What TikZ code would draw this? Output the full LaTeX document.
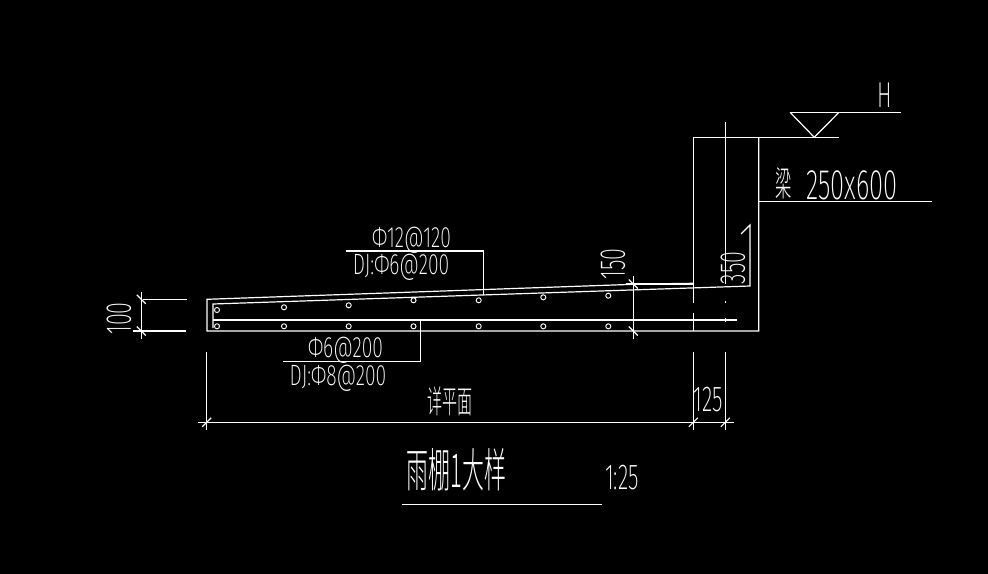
\documentclass[tikz,border=0pt]{standalone}
\usepackage{fontspec}
\newfontfamily\cadfont[FakeStretch=0.6,UprightFont={* ExtraLight}]{Fira Sans}
\newfontfamily\cadwide[FakeStretch=0.66,UprightFont={* ExtraLight}]{Fira Sans}
\newfontfamily\cadcjk[FakeStretch=0.47,UprightFont={* Light}]{Noto Sans CJK SC}
\begin{document}
\begin{tikzpicture}[x=0.75pt, y=-0.75pt, white, line width=0.9pt,
    dimtext/.style = {font=\cadfont\fontsize{27}{27}\selectfont, inner sep=0pt},
    bartext/.style = {font=\cadwide\fontsize{22}{22}\selectfont, inner sep=0pt},
    hanzi/.style = {inner sep=0pt, font=\cadcjk\fontsize{#1}{#1}\selectfont},
    rebar/.style = {draw, circle, inner sep=0pt, minimum size=3.8pt, line width=0.7pt}]
  \fill[black] (0,0) rectangle (988,574);
  \useasboundingbox (0,0) rectangle (988,574);

  % beam and slab outline
  \draw (693.3,137.3) -- (693.3,303);
  \draw (693.3,312.7) -- (693.3,331);
  \draw (758.7,137.3) -- (758.7,331) -- (207,331) -- (207,299.3) -- (642,284) -- (693.3,283.3);
  \draw[line width=1.4pt] (642,283.6) -- (672,283.6);
  \draw (693.3,137.3) -- (839,137.3);
  \draw (725.3,122) -- (725.3,284);
  \draw (725.3,301) -- (725.3,303);
  \draw (725.3,318) -- (725.3,322);

  % steel
  \draw (213,328) -- (213,304) -- (750,286) -- (750,225) -- (741,234);
  \draw (213,320) -- (736.7,320);
  \foreach \px/\py [count=\i] in {217/310, 284/307.3, 348.7/305.3, 413.5/300.3, 478.7/300.3, 543.3/297.3, 608.3/295.7}
    \node[rebar] (top\i) at (\px,\py) {};
  \foreach \px [count=\i] in {217, 284, 348.7, 413.5, 478.7, 543.3, 608.3}
    \node[rebar] (bot\i) at (\px,326.3) {};

  % level mark
  \draw (790,112.3) -- (900.7,112.3);
  \draw (790,112.3) -- (814.3,137.3) -- (839,112.3);
  \node[dimtext] (levelH) at (885,95.5) {H};

  % beam note
  \draw (758.7,201.3) -- (931.7,201.3);
  \node[hanzi=26] (beamname) at (784,183) {梁};
  \node[dimtext, font=\cadfont\fontsize{32}{32}\selectfont] (beamsize) at (852,185.5) {250x600};

  % bar notes
  \draw (346,251) -- (483.5,251) -- (483.5,295);
  \draw (283,361.3) -- (420.7,361.3) -- (420.7,321);
  \node[bartext] (topbar) at (411.5,240) {Φ12@120};
  \node[bartext] (topdj) at (401,267.7) {DJ:Φ6@200};
  \node[bartext] (botbar) at (345.5,350.5) {Φ6@200};
  \node[bartext] (botdj) at (338,378) {DJ:Φ8@200};

  % dimensions
  \draw (143,299.3) -- (187,299.3);
  \draw (133,331) -- (186,331);
  \draw (141.3,292) -- (141.3,339);
  \draw (633.3,276) -- (633.3,339);
  \draw (626,284) -- (693.3,284);
  \foreach \px/\py in {141.3/299.3, 141.3/331, 633.3/284, 633.3/331}
    \draw (\px-4.5,\py-4.5) -- (\px+4.5,\py+4.5);
  \draw (198,422.3) -- (734,422.3);
  \foreach \px in {206.7, 693.3, 725.3} {
    \draw (\px,352) -- (\px,430);
    \draw (\px-4.5,422.3+4.5) -- (\px+4.5,422.3-4.5);
  }
  \node[dimtext, rotate=90] (dimA) at (119,318.5) {100};
  \node[dimtext, rotate=90] (dimB) at (613,264) {150};
  \node[dimtext, rotate=90] (dimC) at (733,268) {350};
  \node[dimtext] (dimD) at (708,400) {125};
  \node[hanzi=24] (dimE) at (450,401) {详平面};

  % title
  \draw (402,504.3) -- (601.7,504.3);
  \node[hanzi=35] (title) at (456.5,470) {雨棚1大样};
  \node[dimtext] (scale) at (622,477.5) {1:25};
\end{tikzpicture}
\end{document}
